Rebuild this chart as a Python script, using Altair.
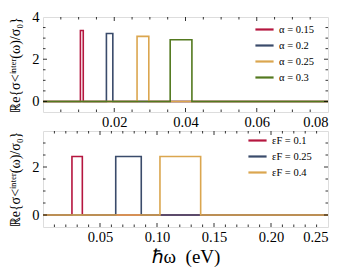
import altair as alt
import pandas as pd

# ---- data ----
alpha_labels = ["α = 0.15", "α = 0.2", "α = 0.25", "α = 0.3"]
alpha_lo = [0.0105, 0.0178, 0.0264, 0.0357]
alpha_hi = [0.0113, 0.0196, 0.0297, 0.0418]
alpha_h = [3.36, 3.22, 3.08, 2.92]
top_xmax = 0.08

ef_labels = ["εF = 0.1", "εF = 0.25", "εF = 0.4"]
ef_lo = [0.0254, 0.0638, 0.1026]
ef_hi = [0.0345, 0.0862, 0.1383]
ef_h = [2.44, 2.44, 2.44]
bot_xmax = 0.25

top_xmajor = [0.02, 0.04, 0.06]
top_xminor = [0.005, 0.01, 0.015, 0.025, 0.03, 0.035, 0.045, 0.05, 0.055, 0.065, 0.07, 0.075]
top_xlabels = [0.02, 0.04, 0.06, 0.08]
top_ymajor = [0, 2]
top_yminor = [0.5, 1, 1.5, 2.5, 3, 3.5]
top_ylabels = [0, 2, 4]

bot_xmajor = [0.05, 0.10, 0.15, 0.20]
bot_xminor = [0.01, 0.02, 0.03, 0.04, 0.06, 0.07, 0.08, 0.09, 0.11, 0.12, 0.13, 0.14,
              0.16, 0.17, 0.18, 0.19, 0.21, 0.22, 0.23, 0.24]
bot_xlabels = [0.05, 0.10, 0.15, 0.20, 0.25]
bot_ymajor = [0, 2]
bot_yminor = [0.5, 1, 1.5, 2.5, 3]
bot_ylabels = [0, 2]

colors = ["#b5163f", "#3a4b6b", "#dba64f", "#53791f"]

FONT = "Liberation Serif"
W = 285
YTITLE = "ℝe{σ<ⁱⁿᵗᵉʳ(ω)/σ₀}"
XTITLE = "ℏω\u00a0\u00a0(eV)"


def step_df(label, lo, hi, h, xmax):
    return pd.DataFrame({
        "x": [0, lo, lo, hi, hi, xmax],
        "y": [0, 0, h, h, 0, 0],
        "o": list(range(6)),
        "s": [label] * 6,
    })


def panel(labels, los, his, hs, xmax, xmajor, xminor, xlabels, ymajor, yminor, ylabels,
          ydom, H, xtitle, legx, legy):
    xs = alt.Scale(domain=[0, xmax], nice=False, zero=False)
    ys = alt.Scale(domain=ydom, nice=False, zero=False)
    cs = alt.Scale(domain=labels, range=colors[:len(labels)])
    leg = alt.Legend(title=None, orient="none", legendX=legx, legendY=legy, padding=0,
                     symbolType="stroke", symbolStrokeWidth=2.2, symbolSize=330,
                     rowPadding=-6, labelFont=FONT, labelFontSize=10.5,
                     labelLimit=200)
    xaxis = alt.Axis(values=xlabels, format=".2f", ticks=False, domain=False, grid=False,
                     labelFont=FONT, labelFontSize=14.5, labelPadding=3, labelColor="black",
                     title=xtitle if xtitle else None, titleFont=FONT, titleFontSize=19,
                     titleFontWeight="normal", titlePadding=4, titleColor="black")
    yaxis = alt.Axis(values=ylabels, format="d", ticks=False, domain=False, grid=False,
                     labelFont=FONT, labelFontSize=14.5, labelPadding=4, labelColor="black",
                     title=YTITLE, titleFont=FONT, titleFontSize=14,
                     titleFontWeight="normal", titlePadding=9, titleColor="black")

    def X(f):
        return alt.X(f, scale=xs, axis=xaxis)

    def Y(f):
        return alt.Y(f, scale=ys, axis=yaxis)

    layers = []
    for i, lab in enumerate(labels):
        df = step_df(lab, los[i], his[i], hs[i], xmax)
        layers.append(
            alt.Chart(df).mark_line(strokeWidth=1.6, clip=True).encode(
                x=X("x:Q"),
                y=Y("y:Q"),
                color=alt.Color("s:N", scale=cs, legend=leg),
                order=alt.Order("o:Q"),
            )
        )

    def xt(vals, L):
        base = alt.Chart(pd.DataFrame({"x": vals})).mark_rule(color="black", strokeWidth=0.8)
        return [base.encode(x=X("x:Q"), y=alt.value(H), y2=alt.value(H - L)),
                base.encode(x=X("x:Q"), y=alt.value(0), y2=alt.value(L))]

    def yt(vals, L):
        base = alt.Chart(pd.DataFrame({"y": vals})).mark_rule(color="black", strokeWidth=0.8)
        return [base.encode(y=Y("y:Q"), x=alt.value(0), x2=alt.value(L)),
                base.encode(y=Y("y:Q"), x=alt.value(W), x2=alt.value(W - L))]

    layers += xt(xmajor, 4) + xt(xminor, 2.5) + yt(ymajor, 4) + yt(yminor, 2.5)
    return alt.layer(*layers).properties(width=W, height=H)


top = panel(alpha_labels, alpha_lo, alpha_hi, alpha_h, top_xmax,
            top_xmajor, top_xminor, top_xlabels, top_ymajor, top_yminor, top_ylabels,
            [-0.5, 4], 95, None, 211, 2)
bottom = panel(ef_labels, ef_lo, ef_hi, ef_h, bot_xmax,
               bot_xmajor, bot_xminor, bot_xlabels, bot_ymajor, bot_yminor, bot_ylabels,
               [-0.5, 3.5], 96, XTITLE, 204, -1)

chart = alt.vconcat(top, bottom, spacing=0).resolve_scale(color="independent").properties(
    padding=0
).configure_view(stroke="black", strokeWidth=1).configure(background="white")

chart.save("out.html", embed_options={"renderer": "svg", "actions": False})
